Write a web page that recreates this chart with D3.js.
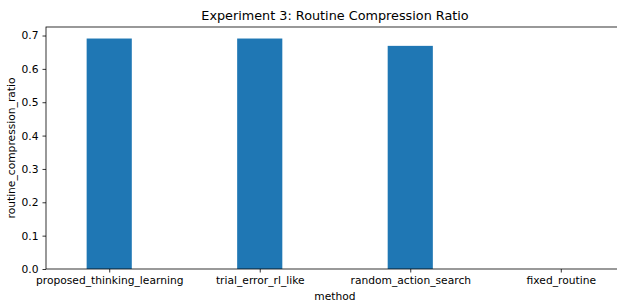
<!DOCTYPE html>
<html>
<head>
<meta charset="utf-8">
<script src="https://cdn.jsdelivr.net/npm/d3@7"></script>
<style>
  body { margin: 0; background: #fff; }
  svg { display: block; font-family: "DejaVu Sans", sans-serif; }
</style>
</head>
<body>
<svg id="chart" width="617" height="303"></svg>
<script>
var methods = ["proposed_thinking_learning", "trial_error_rl_like", "random_action_search", "fixed_routine"];
var ratios = [0.691, 0.691, 0.669, 0];
var yTicks = [0, 0.1, 0.2, 0.3, 0.4, 0.5, 0.6, 0.7];

(function() {
  var svg = d3.select("svg#chart");
  var left = 46, right = 624, top = 27, bottom = 269;

  var x = d3.scaleLinear().domain([-0.42, methods.length - 1 + 0.42]).range([left, right]);
  var y = d3.scaleLinear().domain([0, d3.max(ratios) * 1.05]).range([bottom, top]);
  var barW = 0.3;

  svg.selectAll(".bar")
    .data(ratios)
    .enter().append("rect")
    .attr("class", "bar")
    .attr("x", function(d, i) { return x(i - barW / 2); })
    .attr("width", function(d, i) { return x(i + barW / 2) - x(i - barW / 2); })
    .attr("y", function(d) { return y(d); })
    .attr("height", function(d) { return y(0) - y(d); })
    .style("fill", "#1f77b4");

  var yAxis = d3.axisLeft(y).tickValues(yTicks).tickFormat(d3.format(".1f")).tickSize(3.5).tickPadding(4);
  var gy = svg.append("g").attr("transform", "translate(" + left + ",0)").call(yAxis);

  var xAxis = d3.axisBottom(x).tickValues(d3.range(methods.length))
    .tickFormat(function(i) { return methods[i]; }).tickSize(3.5).tickPadding(4);
  var gx = svg.append("g").attr("transform", "translate(0," + bottom + ")").call(xAxis);

  [gx, gy].forEach(function(g) {
    g.select(".domain").remove();
    g.selectAll("text").style("font-size", "10.7px").style("fill", "#000")
      .style("font-family", "DejaVu Sans, sans-serif");
    g.selectAll("line").style("stroke", "#000").style("stroke-width", 0.8);
  });

  // frame
  svg.append("rect")
    .attr("x", left).attr("y", top)
    .attr("width", right - left).attr("height", bottom - top)
    .style("fill", "none").style("stroke", "#000").style("stroke-width", 0.8);

  svg.append("text")
    .attr("x", (left + right) / 2).attr("y", 20)
    .attr("text-anchor", "middle")
    .style("font-size", "12.8px")
    .text("Experiment 3: Routine Compression Ratio");

  svg.append("text")
    .attr("x", (left + right) / 2).attr("y", 300)
    .attr("text-anchor", "middle")
    .style("font-size", "10.7px")
    .text("method");

  svg.append("text")
    .attr("transform", "translate(15," + (top + bottom) / 2 + ") rotate(-90)")
    .attr("text-anchor", "middle")
    .style("font-size", "10.7px")
    .text("routine_compression_ratio");
})();
</script>
</body>
</html>
